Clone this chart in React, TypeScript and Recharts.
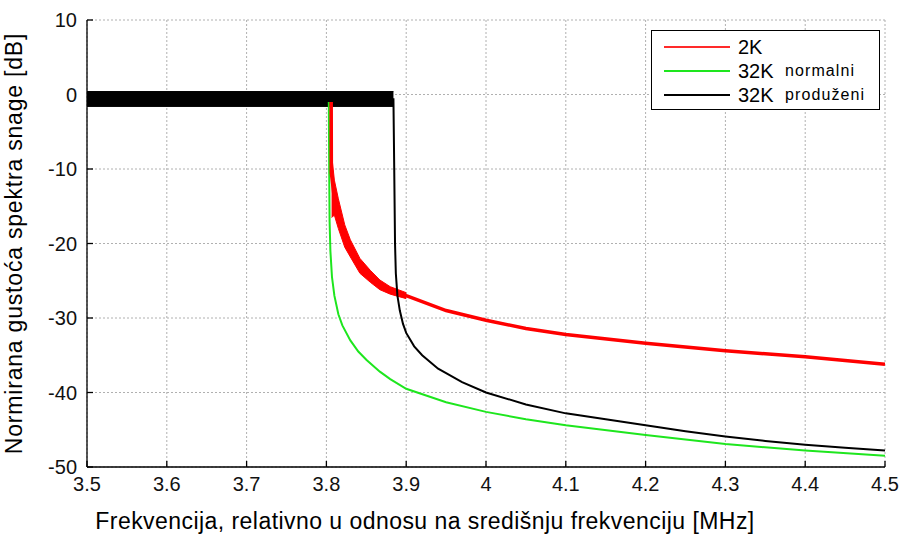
import React from "react"
import { ComposedChart, Line, Area, XAxis, YAxis, CartesianGrid } from "recharts"

const FONT = "'Liberation Sans', Arial, sans-serif"

const X_TICKS = [3.5, 3.6, 3.7, 3.8, 3.9, 4, 4.1, 4.2, 4.3, 4.4, 4.5]
const Y_TICKS = [-50, -40, -30, -20, -10, 0, 10]

// 2K (pass band part is hidden under the black ripple)
const RED_F = [3.806, 3.8062, 3.81, 3.823, 3.842, 3.867, 3.9, 3.95, 4.0, 4.05, 4.1, 4.2, 4.3, 4.4, 4.5]
const RED_DB = [-1, -10.5, -14, -19, -23, -25.5, -27, -29, -30.3, -31.4, -32.2, -33.4, -34.4, -35.2, -36.2]
// serrated part of 2K just after the edge
const RED_BAND_F = [3.8065, 3.81, 3.815, 3.823, 3.83, 3.842, 3.855, 3.867, 3.88, 3.9]
const RED_BAND_LO = [-16.5, -16.2, -18, -20.5, -21.8, -24, -25.2, -26.2, -26.8, -27.4]
const RED_BAND_HI = [-8, -11.5, -14, -17.5, -19.5, -22, -23.6, -24.9, -25.8, -26.6]

// 32K normalni
const GREEN_F = [3.803, 3.8035, 3.804, 3.805, 3.807, 3.81, 3.815, 3.82, 3.83, 3.84, 3.85, 3.867, 3.88, 3.9, 3.95, 4.0, 4.05, 4.1, 4.2, 4.3, 4.4, 4.5]
const GREEN_DB = [-1, -10, -17, -21, -24.5, -27, -29.5, -31, -33, -34.5, -35.6, -37.2, -38.2, -39.5, -41.3, -42.6, -43.6, -44.4, -45.7, -46.9, -47.8, -48.5]

// 32K produzeni
const BLACK_F = [3.884, 3.885, 3.886, 3.887, 3.889, 3.892, 3.896, 3.9, 3.91, 3.92, 3.94, 3.95, 3.97, 4.0, 4.05, 4.1, 4.15, 4.2, 4.25, 4.3, 4.35, 4.4, 4.45, 4.5]
const BLACK_DB = [-0.5, -10, -20, -24, -27, -29, -30.8, -32, -33.8, -35, -36.8, -37.4, -38.6, -40, -41.6, -42.8, -43.6, -44.4, -45.2, -45.9, -46.5, -47, -47.4, -47.8]
// ripple in the pass band
const BLACK_BAND_F = [3.5, 3.884]
const BLACK_BAND_LO = [-1.6, -1.6]
const BLACK_BAND_HI = [0.4, 0.4]

const LEGEND = [
  { name: "2K", note: "", color: "#ff2a2a" },
  { name: "32K", note: "normalni", color: "#1ee61e" },
  { name: "32K", note: "produženi", color: "#000000" },
]

function buildTable() {
  const rows = new Map<number, any>()
  const put = (xs: number[], key: string, vals: any[]) => {
    xs.forEach((x, i) => {
      if (!rows.has(x)) rows.set(x, { f: x })
      rows.get(x)[key] = vals[i]
    })
  }
  put(RED_F, "red", RED_DB)
  put(RED_BAND_F, "redBand", RED_BAND_F.map((_, i) => [RED_BAND_LO[i], RED_BAND_HI[i]]))
  put(GREEN_F, "green", GREEN_DB)
  put(BLACK_F, "black", BLACK_DB)
  put(BLACK_BAND_F, "blackBand", BLACK_BAND_F.map((_, i) => [BLACK_BAND_LO[i], BLACK_BAND_HI[i]]))
  return [...rows.values()].sort((a, b) => a.f - b.f)
}

const data = buildTable()
const M = 10

function BottomTick(props: any) {
  const { x, y, payload } = props
  return (
    <g>
      <line x1={x} y1={y - M} x2={x} y2={y - M - 6} stroke="#000" strokeWidth={1.3} />
      <text x={x} y={y} dy="0.71em" textAnchor="middle" fontSize={20} fontFamily={FONT} fill="#111">
        {String(payload.value)}
      </text>
    </g>
  )
}

function LeftTick(props: any) {
  const { x, y, payload } = props
  return (
    <g>
      <line x1={x + M} y1={y} x2={x + M + 6} y2={y} stroke="#000" strokeWidth={1.3} />
      <text x={x} y={y} dy="0.355em" textAnchor="end" fontSize={20} fontFamily={FONT} fill="#111">
        {String(payload.value)}
      </text>
    </g>
  )
}

function TopTick(props: any) {
  const { x, y } = props
  return <line x1={x} y1={y + M} x2={x} y2={y + M + 6} stroke="#000" strokeWidth={1.3} />
}

function RightTick(props: any) {
  const { x, y } = props
  return <line x1={x - M} y1={y} x2={x - M - 6} y2={y} stroke="#000" strokeWidth={1.3} />
}

function LegendBox() {
  return (
    <div style={{ position: "absolute", left: 651, top: 30, border: "1.5px solid #000", background: "#fff", width: 229, height: 80, boxSizing: "border-box", padding: "4px 0 0 12px", fontFamily: FONT }}>
      {LEGEND.map((d, i) => (
        <div key={i} style={{ display: "flex", alignItems: "center", height: 24 }}>
          <div style={{ width: 66, height: 2, background: d.color }} />
          <span style={{ marginLeft: 8, fontSize: 20, width: 47 }}>{d.name}</span>
          <span style={{ fontSize: 16, letterSpacing: 1.1 }}>{d.note}</span>
        </div>
      ))}
    </div>
  )
}

export default function App() {
  return (
    <div style={{ position: "absolute", left: 0, top: 0, width: 907, height: 535, background: "#fff" }}>
      <ComposedChart width={907} height={535} data={data} margin={{ top: 20, right: 22, bottom: 0, left: 0 }}>
        <CartesianGrid stroke="#b0b0b0" strokeDasharray="2 2" />
        <XAxis
          dataKey="f"
          type="number"
          domain={[3.5, 4.5]}
          ticks={X_TICKS}
          allowDataOverflow
          height={68}
          tickSize={0}
          tickMargin={M}
          tick={<BottomTick />}
          axisLine={{ stroke: "#000", strokeWidth: 1.3 }}
          label={{ value: "Frekvencija, relativno u odnosu na središnju frekvenciju [MHz]", position: "insideBottom", offset: 6, dx: -61, fontSize: 23, fill: "#000", fontFamily: FONT, style: { letterSpacing: 0.45 } }}
        />
        <XAxis
          xAxisId="top"
          dataKey="f"
          type="number"
          orientation="top"
          domain={[3.5, 4.5]}
          ticks={X_TICKS}
          height={0}
          tickSize={0}
          tickMargin={M}
          tick={<TopTick />}
          axisLine={{ stroke: "#000", strokeWidth: 1.3 }}
        />
        <YAxis
          domain={[-50, 10]}
          ticks={Y_TICKS}
          allowDataOverflow
          width={87}
          tickSize={0}
          tickMargin={M}
          tick={<LeftTick />}
          axisLine={{ stroke: "#000", strokeWidth: 1.3 }}
          label={{ value: "Normirana gustoća spektra snage [dB]", angle: -90, position: "insideLeft", offset: 14, fontSize: 23, fill: "#000", fontFamily: FONT, style: { textAnchor: "middle", letterSpacing: 0.8 } }}
        />
        <YAxis
          yAxisId="right"
          orientation="right"
          domain={[-50, 10]}
          ticks={Y_TICKS}
          width={0}
          tickSize={0}
          tickMargin={M}
          tick={<RightTick />}
          axisLine={{ stroke: "#000", strokeWidth: 1.3 }}
        />
        <Line dataKey="green" stroke="#1ee61e" strokeWidth={2} dot={false} connectNulls isAnimationActive={false} type="linear" />
        <Area dataKey="redBand" stroke="#ff0000" strokeWidth={1} fill="#ff0000" fillOpacity={1} connectNulls isAnimationActive={false} type="linear" />
        <Line dataKey="red" stroke="#ff0000" strokeWidth={3.5} dot={false} connectNulls isAnimationActive={false} type="linear" />
        <Area dataKey="blackBand" stroke="#000" strokeWidth={1} fill="#000" fillOpacity={1} connectNulls isAnimationActive={false} type="linear" />
        <Line dataKey="black" stroke="#000" strokeWidth={2} dot={false} connectNulls isAnimationActive={false} type="linear" />
      </ComposedChart>
      <LegendBox />
    </div>
  )
}
